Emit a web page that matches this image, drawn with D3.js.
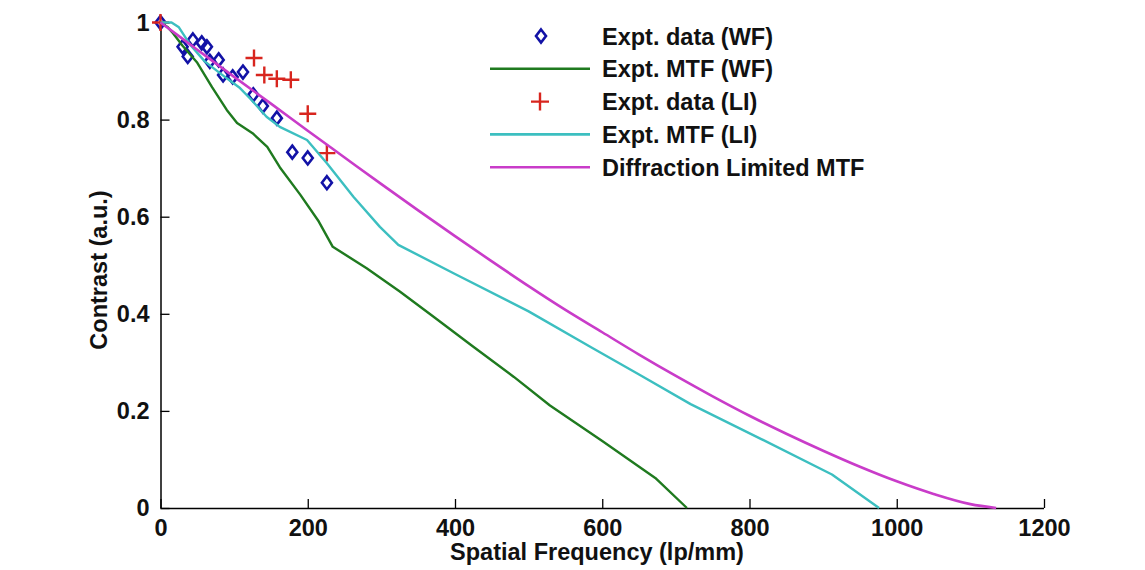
<!DOCTYPE html>
<html>
<head>
<meta charset="utf-8">
<script src="https://cdn.jsdelivr.net/npm/d3@7"></script>
<style>
  html, body { margin: 0; padding: 0; background: #ffffff; }
  svg { display: block; }
  text { font-family: "Liberation Sans", Arial, sans-serif; font-weight: bold; fill: #111; }
</style>
</head>
<body>
<svg id="chart" width="1145" height="570"></svg>
<script>
// Measured contrast, wide-field (WF) imaging
const wfFreq     = [0, 30, 37, 44, 56, 63, 67, 79, 85, 98, 112, 126, 139, 158, 179, 200, 226];
const wfContrast = [1.0, 0.95, 0.93, 0.964, 0.958, 0.95, 0.92, 0.923, 0.892, 0.888, 0.898, 0.851, 0.828, 0.803, 0.733, 0.721, 0.67];

// Measured contrast, line illumination (LI)
const liFreq     = [0, 127, 141, 158, 177, 200, 226];
const liContrast = [1.0, 0.927, 0.892, 0.884, 0.882, 0.812, 0.731];

// Experimental MTF (WF)
const mtfWfFreq     = [0, 10, 17, 30, 50, 70, 90, 104, 125, 145, 162, 190, 215, 234, 280, 325, 370, 424, 480, 529, 600, 672, 715];
const mtfWfContrast = [1.0, 0.99, 0.978, 0.952, 0.917, 0.867, 0.82, 0.793, 0.772, 0.744, 0.702, 0.645, 0.59, 0.538, 0.494, 0.446, 0.395, 0.333, 0.27, 0.211, 0.138, 0.062, 0.0];

// Experimental MTF (LI)
const mtfLiFreq     = [0, 15, 25, 40, 60, 90, 108, 122, 144, 162, 199, 226, 262, 298, 323, 400, 500, 586, 650, 720, 816, 912, 976];
const mtfLiContrast = [1.0, 1.0, 0.99, 0.955, 0.92, 0.885, 0.865, 0.843, 0.806, 0.785, 0.758, 0.71, 0.641, 0.579, 0.542, 0.482, 0.405, 0.33, 0.275, 0.214, 0.142, 0.069, 0.0];

// Diffraction limited MTF
const dlFreq     = [0, 50, 100, 150, 200, 250, 300, 350, 400, 450, 500, 550, 600, 650, 700, 750, 800, 850, 900, 950, 1000, 1050, 1100, 1135];
const dlContrast = [1.0, 0.944, 0.888, 0.833, 0.777, 0.722, 0.667, 0.613, 0.56, 0.508, 0.457, 0.408, 0.362, 0.316, 0.272, 0.23, 0.19, 0.153, 0.118, 0.085, 0.055, 0.029, 0.008, 0.0];

const xTicks = [0, 200, 400, 600, 800, 1000, 1200];
const yTicks = [0, 0.2, 0.4, 0.6, 0.8, 1];
const yTickLabels = ["0", "0.2", "0.4", "0.6", "0.8", "1"];

const legendLabels = ["Expt. data (WF)", "Expt. MTF (WF)", "Expt. data (LI)", "Expt. MTF (LI)", "Diffraction Limited MTF"];

const colors = {
  wf: "#1212a6",
  li: "#d8251e",
  mtfWf: "#1f7a1f",
  mtfLi: "#3cbfc0",
  dl: "#c93cc9"
};

const fontSize = 23.5;

const svg = d3.select("#chart");
const plotLeft = 160.5, plotRight = 1044, plotTop = 22.5, plotBottom = 508;

const x = d3.scaleLinear().domain([0, 1200]).range([plotLeft, plotRight]);
const y = d3.scaleLinear().domain([0, 1]).range([plotBottom, plotTop]);

const zip = (a, b) => a.map((v, i) => [v, b[i]]);
const line = d3.line().x(d => x(d[0])).y(d => y(d[1]));

// Axes with inward ticks
const xAxis = svg.append("g").attr("transform", `translate(0,${plotBottom})`)
  .call(d3.axisBottom(x).tickValues(xTicks).tickSize(-9).tickPadding(11).tickFormat(d3.format("d")));
const yAxis = svg.append("g").attr("transform", `translate(${plotLeft},0)`)
  .call(d3.axisLeft(y).tickValues(yTicks).tickSize(-9).tickPadding(11).tickFormat((d, i) => yTickLabels[i]));

[xAxis, yAxis].forEach(g => {
  g.select(".domain").attr("stroke", "#000").attr("stroke-width", 1.5);
  g.selectAll(".tick line").attr("stroke", "#000").attr("stroke-width", 1.3);
  g.selectAll(".tick text").attr("font-size", fontSize).attr("fill", "#111")
    .attr("font-family", "Liberation Sans, Arial, sans-serif").attr("font-weight", "bold");
});
// plain axis lines without end caps
xAxis.select(".domain").attr("d", `M${plotLeft},0.5H${plotRight}`);
yAxis.select(".domain").attr("d", `M0.5,${plotBottom}V${plotTop}`);

// Axis titles
svg.append("text").attr("x", 597).attr("y", 560)
  .attr("text-anchor", "middle").attr("font-size", fontSize).text("Spatial Frequency (lp/mm)");
svg.append("text").attr("transform", "translate(107,270) rotate(-90)")
  .attr("text-anchor", "middle").attr("font-size", fontSize).text("Contrast (a.u.)");

const plot = svg.append("g");

const diamond = (cx, cy, w = 5, h = 6.5) => `M${cx},${cy - h}L${cx + w},${cy}L${cx},${cy + h}L${cx - w},${cy}Z`;
const plus = (cx, cy, s = 8.5) => `M${cx - s},${cy}H${cx + s}M${cx},${cy - s}V${cy + s}`;

// WF data points
plot.append("g").selectAll("path").data(zip(wfFreq, wfContrast)).join("path")
  .attr("d", d => diamond(x(d[0]), y(d[1])))
  .attr("fill", "none").attr("stroke", colors.wf).attr("stroke-width", 2.6);

// WF MTF
plot.append("path").datum(zip(mtfWfFreq, mtfWfContrast)).attr("d", line)
  .attr("fill", "none").attr("stroke", colors.mtfWf).attr("stroke-width", 2.4).attr("stroke-linejoin", "round");

// LI data points
plot.append("g").selectAll("path").data(zip(liFreq, liContrast)).join("path")
  .attr("d", d => plus(x(d[0]), y(d[1])))
  .attr("fill", "none").attr("stroke", colors.li).attr("stroke-width", 2.4);

// LI MTF
plot.append("path").datum(zip(mtfLiFreq, mtfLiContrast)).attr("d", line)
  .attr("fill", "none").attr("stroke", colors.mtfLi).attr("stroke-width", 2.4).attr("stroke-linejoin", "round");

// Diffraction limited MTF
plot.append("path").datum(zip(dlFreq, dlContrast)).attr("d", line.curve(d3.curveMonotoneX))
  .attr("fill", "none").attr("stroke", colors.dl).attr("stroke-width", 2.6).attr("stroke-linejoin", "round");

// Legend
const legend = svg.append("g");
const rowY = i => 36 + i * 32.8;
const items = [
  { type: "diamond", color: colors.wf },
  { type: "line", color: colors.mtfWf },
  { type: "plus", color: colors.li },
  { type: "line", color: colors.mtfLi },
  { type: "line", color: colors.dl }
];
items.forEach((it, i) => {
  const cy = rowY(i);
  if (it.type === "line") {
    legend.append("line").attr("x1", 490).attr("x2", 590).attr("y1", cy).attr("y2", cy)
      .attr("stroke", it.color).attr("stroke-width", 2.6);
  } else if (it.type === "diamond") {
    legend.append("path").attr("d", diamond(541, cy)).attr("fill", "none")
      .attr("stroke", it.color).attr("stroke-width", 2.6);
  } else {
    legend.append("path").attr("d", plus(540, cy, 9)).attr("fill", "none")
      .attr("stroke", it.color).attr("stroke-width", 2.4);
  }
  legend.append("text").attr("x", 602).attr("y", cy + 8.5).attr("font-size", fontSize).text(legendLabels[i]);
});
</script>
</body>
</html>
